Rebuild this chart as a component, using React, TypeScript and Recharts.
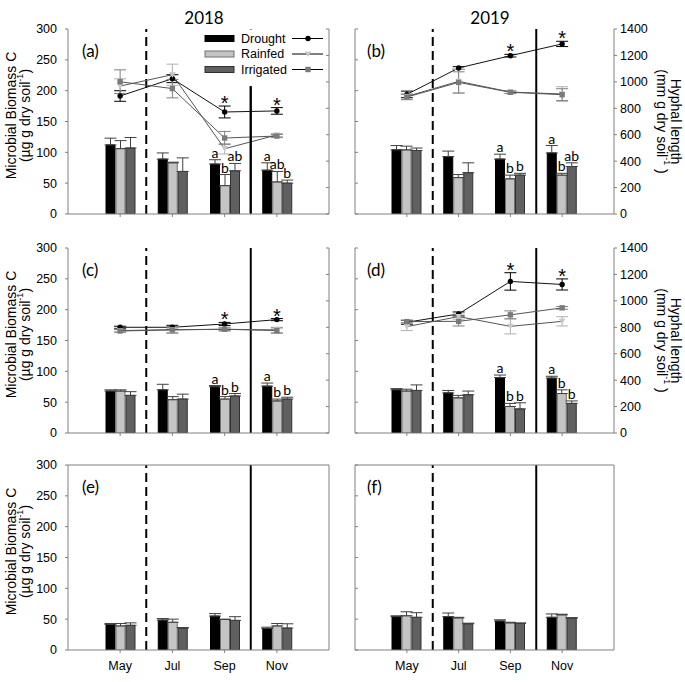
import React from 'react';
import { ComposedChart, Bar, Line, XAxis, YAxis, ErrorBar, ReferenceLine, LabelList } from 'recharts';

// ---------- data ----------
const months = ['May', 'Jul', 'Sep', 'Nov'];
const treatments = ['Drought', 'Rainfed', 'Irrigated'];
const leftTicks = [0, 50, 100, 150, 200, 250, 300];
const rightTicks = [0, 200, 400, 600, 800, 1000, 1200, 1400];
// vertical separators drawn at the start of these months
const dashedBefore = 'Jul';
const solidBefore = 'Nov';

// microbial biomass C, rows = months, cols = [Drought, Rainfed, Irrigated]
const mbcA = [[112, 106, 107], [89, 83, 69], [81, 46, 70], [71, 52, 50]];
const mbcAErr = [[11, 13, 17], [10, 1, 22], [7, 18, 12], [12, 17, 5]];
const mbcB = [[104, 104, 103], [93, 59, 67], [89, 57, 63], [99, 63, 77]];
const mbcBErr = [[7, 6, 4], [9, 5, 16], [8, 6, 3], [12, 3, 6]];
const mbcC = [[68, 68, 61], [70, 54, 55], [75, 55, 60], [76, 52, 55]];
const mbcCErr = [[2, 2, 6], [9, 5, 8], [2, 4, 4], [5, 3, 3]];
const mbcD = [[70, 68, 69], [65, 57, 62], [90, 43, 39], [89, 64, 48]];
const mbcDErr = [[2, 3, 9], [4, 4, 6], [4, 5, 10], [3, 6, 4]];
const mbcE = [[41.5, 39, 40], [48.5, 45, 35.5], [55, 49.5, 48], [35, 39, 35.5]];
const mbcEErr = [[1.5, 4, 4], [2.5, 5, 1], [4, 0.5, 6], [2, 4, 7]];
const mbcF = [[54, 55.5, 53], [54, 52, 42.5], [47, 44, 43], [53, 57, 51.5]];
const mbcFErr = [[1.5, 6.5, 7.5], [6, 1, 1], [2, 1, 1], [5.5, 1, 1]];

// hyphal length, rows = months, cols = [Drought, Rainfed, Irrigated]
const hypA = [[893, 968, 1001], [1024, 1054, 949], [772, 494, 575], [780, 598, 590]];
const hypAErr = [[40, 55, 90], [30, 80, 70], [45, 40, 50], [25, 12, 12]];
const hypB = [[905, 890, 885], [1105, 1004, 996], [1198, 923, 921], [1287, 908, 903]];
const hypBErr = [[25, 20, 20], [10, 90, 80], [10, 10, 10], [20, 55, 45]];
const hypC = [[800, 775, 772], [800, 782, 780], [825, 785, 785], [858, 780, 775]];
const hypCErr = [[8, 10, 10], [15, 20, 25], [12, 15, 10], [8, 20, 20]];
const hypD = [[838, 805, 843], [901, 881, 845], [1147, 807, 894], [1124, 845, 947]];
const hypDErr = [[15, 30, 10], [15, 20, 35], [66, 57, 30], [42, 35, 10]];

// significance letters / stars
const lettersA = [['', '', ''], ['', '', ''], ['a', 'b', 'ab'], ['a', 'ab', 'b']];
const lettersB = [['', '', ''], ['', '', ''], ['a', 'b', 'b'], ['a', 'b', 'ab']];
const lettersC = [['', '', ''], ['', '', ''], ['a', 'b', 'b'], ['a', 'b', 'b']];
const lettersD = [['', '', ''], ['', '', ''], ['a', 'b', 'b'], ['a', 'b', 'b']];
const starsAll = [false, false, true, true];

// ---------- style ----------
const FONT = '"Liberation Sans", Arial, sans-serif';
const FONT2 = 'Lato, "Liberation Sans", sans-serif';
const AXIS = '#808080';
const KEYS = ['dr', 'rf', 'ir'];
const BAR_FILL = ['#000000', '#c4c4c4', '#606060'];
const BAR_STROKE = ['#000000', '#707070', '#303030'];
const ERR_LINE = ['#000000', '#b0b0b0', '#808080'];
const LINE_STROKE = ['#111111', '#555555', '#555555'];
const PLOT_H = 185;
const ROW_TOPS = [29, 248, 465];
const LEFT_PLOT_X = 68;
const LEFT_PLOT_W = 261;

const dotCircle = (p: any) => <circle key={`c${p.index}`} cx={p.cx} cy={p.cy} r={2.7} fill="#000" />;
const dotTri = (p: any) => (
  <path key={`t${p.index}`} d={`M${p.cx - 3.3},${p.cy - 2.6} L${p.cx + 3.3},${p.cy - 2.6} L${p.cx},${p.cy + 3} Z`} fill="#c8c8c8" />
);
const dotSq = (p: any) => <rect key={`s${p.index}`} x={p.cx - 2.7} y={p.cy - 2.7} width={5.4} height={5.4} fill="#7a7a7a" />;
const DOTS = [dotCircle, dotTri, dotSq];

type PanelProps = {
  col: number;
  row: number;
  mbc: number[][];
  mbcErr: number[][];
  hyp?: number[][];
  hypErr?: number[][];
  letters?: string[][];
  stars?: boolean[];
  tag: string;
  title?: string;
};

// legend of panel (a) on a white box, plus the Sep/Nov separator of that panel,
// which stops just below the legend (months sit at slots 1..4 of a 5-slot axis)
function LegendAndSeparatorA() {
  const ox = 199;
  const oy = 29;
  const rows = [9.5, 25, 40.5];
  const sepX = LEFT_PLOT_X + (LEFT_PLOT_W * 3.5) / 5 - ox;
  return (
    <svg width={131} height={PLOT_H + 2} style={{ position: 'absolute', left: ox, top: oy, zIndex: 5 }}>
      <rect x={0} y={0.5} width={127} height={57} fill="#fff" stroke="none" />
      <line x1={sepX} x2={sepX} y1={57} y2={PLOT_H - 1} stroke="#000" strokeWidth={2} />
      {treatments.map((t, j) => (
        <g key={t}>
          <rect x={6} y={rows[j] - 3} width={29} height={6} fill={BAR_FILL[j]} stroke={BAR_STROKE[j]} strokeWidth={1} />
          <text x={42} y={rows[j]} dominantBaseline="central" fontSize={12.5} fontFamily={FONT} fill="#000">{t}</text>
          <line x1={93} x2={124} y1={rows[j]} y2={rows[j]} stroke="#000" strokeWidth={1} />
          {DOTS[j]({ cx: 109, cy: rows[j], index: 99 })}
        </g>
      ))}
    </svg>
  );
}

function Panel(props: PanelProps) {
  const { col, row, mbc, mbcErr, hyp, hypErr, letters, stars, tag, title } = props;
  const isLeft = col === 0;
  const isBottom = row === 2;
  const xH = isBottom ? 32 : 20;
  const chartLeft = isLeft ? 0 : 340;
  const chartTop = ROW_TOPS[row] - 29;
  const W = 345;
  const H = 29 + PLOT_H + xH;
  const margin = isLeft ? { top: 29, right: 16, bottom: 0, left: 28 } : { top: 29, right: 31, bottom: 0, left: 15 };

  const data = months.map((m, i) => {
    const o: any = { month: m };
    KEYS.forEach((k, j) => {
      o[k] = mbc[i][j];
      o[k + 'E'] = [0, mbcErr[i][j]];
      if (hyp && hypErr) {
        o['h' + k] = hyp[i][j];
        o['h' + k + 'E'] = hypErr[i][j];
      }
    });
    return o;
  });

  const letterContent = (j: number) => (p: any) => {
    const vb = p.viewBox || p;
    const i = p.index;
    const t = letters && i != null ? letters[i]?.[j] : '';
    if (!t) return null;
    const x = vb.x + vb.width / 2;
    const top = vb.y - (mbcErr[i][j] * PLOT_H) / 300;
    return (
      <text key={`l${j}${i}`} x={x} y={top - 2} textAnchor="middle" fontSize={14} fontFamily={FONT2} fill="#000">{t}</text>
    );
  };

  const starContent = (p: any) => {
    const vb = p.viewBox || p;
    const i = p.index;
    if (!stars || i == null || !stars[i] || !hypErr) return null;
    const errTop = vb.y - (hypErr[i][0] * PLOT_H) / 1400;
    return (
      <text key={`s${i}`} x={vb.x} y={errTop + 4} textAnchor="middle" fontSize={20} fontFamily={FONT} fill="#000">*</text>
    );
  };

  const plotCY = 29 + PLOT_H / 2;

  return (
    <div style={{ position: 'absolute', left: chartLeft, top: chartTop, width: W, height: H }}>
      <ComposedChart width={W} height={H} data={data} margin={margin} barSize={9} barGap={1}>
        <XAxis
          dataKey="month"
          type="category"
          padding={{ left: 26, right: 26 }}
          height={xH}
          tickSize={3}
          tickMargin={isBottom ? 8 : 2}
          stroke={AXIS}
          tick={{ fill: '#000', fontSize: 12.5, fontFamily: FONT }}
          tickFormatter={isBottom ? undefined : () => ''}
        />
        {isLeft ? (
          <YAxis
            yAxisId="left"
            domain={[0, 300]}
            ticks={leftTicks}
            width={40}
            tickSize={3}
            tickMargin={8}
            stroke={AXIS}
            allowDataOverflow
            tick={{ fill: '#000', fontSize: 12.5, fontFamily: FONT }}
          />
        ) : (
          <YAxis
            yAxisId="left"
            domain={[0, 300]}
            ticks={leftTicks}
            mirror
            tickSize={3}
            stroke={AXIS}
            allowDataOverflow
            tickFormatter={() => ''}
          />
        )}
        {isLeft ? (
          <YAxis
            yAxisId="right"
            orientation="right"
            domain={[0, 1400]}
            ticks={rightTicks}
            mirror
            tickSize={3}
            stroke={AXIS}
            allowDataOverflow
            tickLine={!isBottom}
            tickFormatter={() => ''}
          />
        ) : (
          <YAxis
            yAxisId="right"
            orientation="right"
            domain={[0, 1400]}
            ticks={rightTicks}
            width={40}
            tickSize={3}
            tickMargin={3}
            stroke={AXIS}
            allowDataOverflow
            tickLine={!isBottom}
            tick={isBottom ? false : { fill: '#000', fontSize: 12.5, fontFamily: FONT }}
          />
        )}

        <ReferenceLine yAxisId="left" x={dashedBefore} position="start" ifOverflow="visible" stroke="#000" strokeWidth={2} strokeDasharray="9 5" />
        <ReferenceLine yAxisId="right" x={solidBefore} position="start" ifOverflow="visible" stroke="#000" strokeWidth={2} />
        {isBottom ? <ReferenceLine yAxisId="left" y={300} stroke={AXIS} strokeWidth={1} /> : null}

        {KEYS.map((k, j) => (
          <Bar
            key={k}
            yAxisId="left"
            dataKey={k}
            fill={BAR_FILL[j]}
            stroke={BAR_STROKE[j]}
            strokeWidth={1}
            isAnimationActive={false}
          >
            <ErrorBar dataKey={k + 'E'} width={6} stroke="#404040" strokeWidth={1} direction="y" />
            {letters ? <LabelList dataKey={k} content={letterContent(j)} /> : null}
          </Bar>
        ))}

        {hyp
          ? KEYS.map((k, j) => (
              <Line
                key={'h' + k}
                yAxisId="right"
                dataKey={'h' + k}
                stroke={LINE_STROKE[j]}
                strokeWidth={1}
                dot={DOTS[j]}
                activeDot={false}
                isAnimationActive={false}
              >
                <ErrorBar dataKey={'h' + k + 'E'} width={6} stroke={ERR_LINE[j]} strokeWidth={1} direction="y" />
                {j === 0 ? <LabelList dataKey={'h' + k} content={starContent} /> : null}
              </Line>
            ))
          : null}

        <text x={isLeft ? 82 : 27} y={29 + 21} dominantBaseline="central" fontSize={17} fontFamily={FONT2} fill="#000">{tag}</text>
        {title ? (
          <text x={isLeft ? 204 : 150} y={17} textAnchor="middle" dominantBaseline="central" fontSize={17} fontFamily={FONT2} fill="#000">{title}</text>
        ) : null}
        {isLeft ? (
          <g>
            <text transform={`rotate(-90 11 ${plotCY - 6})`} x={11} y={plotCY - 6} textAnchor="middle" dominantBaseline="central" fontSize={14} fontFamily={FONT} fill="#000">
              Microbial Biomass C
            </text>
            <text transform={`rotate(-90 25 ${plotCY - 6})`} x={25} y={plotCY - 6} textAnchor="middle" dominantBaseline="central" fontSize={14} fontFamily={FONT} fill="#000">
              (µg g dry soil<tspan dy={-5} fontSize={9}>-1</tspan><tspan dy={5}>)</tspan>
            </text>
          </g>
        ) : null}
        {!isLeft && !isBottom ? (
          <g>
            <text transform={`rotate(90 336 ${plotCY})`} x={336} y={plotCY} textAnchor="middle" dominantBaseline="central" fontSize={14} fontFamily={FONT} fill="#000">
              Hyphal length
            </text>
            <text transform={`rotate(90 322 ${plotCY})`} x={322} y={plotCY} textAnchor="middle" dominantBaseline="central" fontSize={14} fontFamily={FONT} fill="#000">
              (mm g dry soil<tspan dy={-5} fontSize={9}>-1</tspan><tspan dy={5}> )</tspan>
            </text>
          </g>
        ) : null}
      </ComposedChart>
    </div>
  );
}

export default function App() {
  return (
    <div style={{ position: 'absolute', left: 0, top: 0, width: 685, height: 682, background: '#fff', overflow: 'hidden' }}>
      <Panel col={0} row={0} mbc={mbcA} mbcErr={mbcAErr} hyp={hypA} hypErr={hypAErr} letters={lettersA} stars={starsAll} tag="(a)" title="2018" />
      <Panel col={1} row={0} mbc={mbcB} mbcErr={mbcBErr} hyp={hypB} hypErr={hypBErr} letters={lettersB} stars={starsAll} tag="(b)" title="2019" />
      <Panel col={0} row={1} mbc={mbcC} mbcErr={mbcCErr} hyp={hypC} hypErr={hypCErr} letters={lettersC} stars={starsAll} tag="(c)" />
      <Panel col={1} row={1} mbc={mbcD} mbcErr={mbcDErr} hyp={hypD} hypErr={hypDErr} letters={lettersD} stars={starsAll} tag="(d)" />
      <Panel col={0} row={2} mbc={mbcE} mbcErr={mbcEErr} tag="(e)" />
      <Panel col={1} row={2} mbc={mbcF} mbcErr={mbcFErr} tag="(f)" />
      <LegendAndSeparatorA />
    </div>
  );
}
